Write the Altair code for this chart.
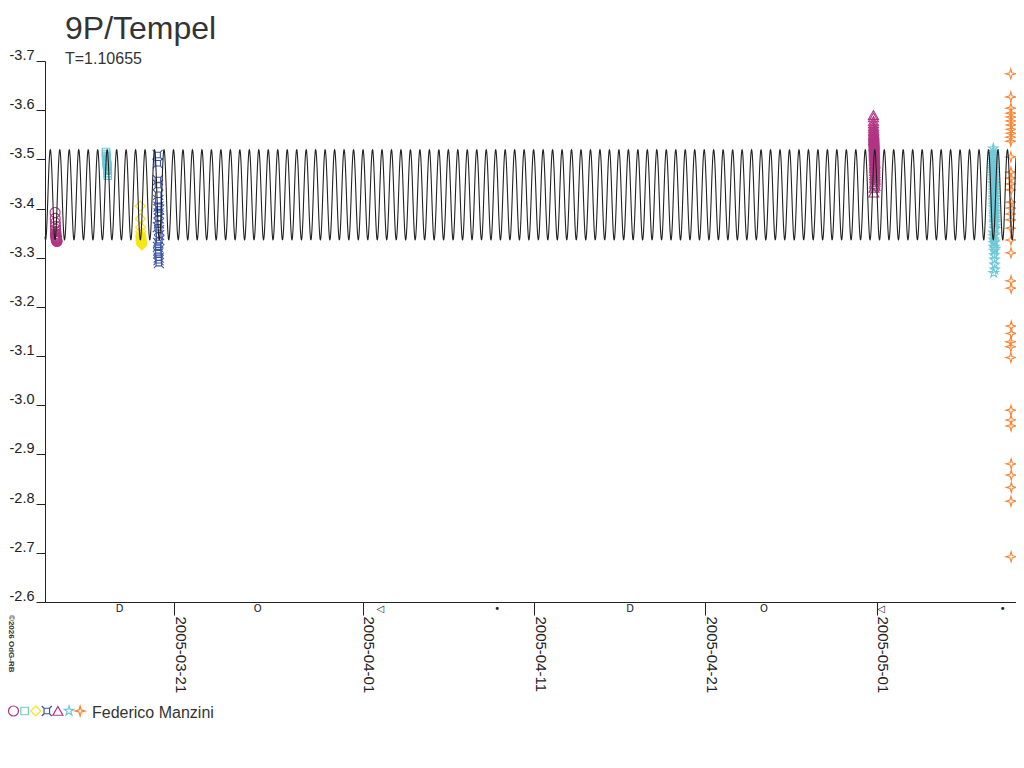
import altair as alt
import pandas as pd

# ---------------- text ----------------
TITLE = "9P/Tempel"
SUBTITLE = "T=1.10655"
OBSERVER = "Federico Manzini"
COPYRIGHT = "©2026 OdG-RB"

# ---------------- model curve parameters ----------------
PERIOD_DAYS = 1.10655
CURVE_MEAN = -3.428
CURVE_AMP = 0.0915
CURVE_PEAK = "2005-04-14T20:24:00Z"
X_START = "2005-03-13T10:48:00Z"
X_END = "2005-05-09T03:22:00Z"

# ---------------- axes ----------------
X_TICKS = ["2005-03-21", "2005-04-01", "2005-04-11", "2005-04-21", "2005-05-01"]
Y_TICKS = [-3.7, -3.6, -3.5, -3.4, -3.3, -3.2, -3.1, -3.0, -2.9, -2.8, -2.7, -2.6]

# ---------------- moon phases ----------------
MOON_TIMES = ["2005-03-17T19:19:00Z", "2005-03-25T20:58:00Z", "2005-04-02T00:50:00Z",
              "2005-04-08T20:32:00Z", "2005-04-16T14:37:00Z", "2005-04-24T10:06:00Z",
              "2005-05-01T06:24:00Z", "2005-05-08T08:45:00Z"]
MOON_SYMBOLS = ["D", "O", "◁", "•", "D", "O", "◁", "•"]

# ---------------- series ----------------
SERIES = ["s1", "s2", "s3", "s4", "s5", "s6", "s7"]
SERIES_COLORS = ["#b13482", "#6ec8d7", "#f5e614", "#3c55a5", "#b13482", "#6ec8d7", "#f58737"]
SERIES_SHAPES = [
    "circle",
    "M-0.75,-0.75H0.75V0.75H-0.75Z",
    "M0,-1L1,0L0,1L-1,0Z",
    "M-0.55,-0.55H0.55V0.55H-0.55ZM-0.55,-0.55L-1,-1M0.55,-0.55L1,-1M0.55,0.55L1,1M-0.55,0.55L-1,1",
    "M0,-0.9L1,0.85L-1,0.85Z",
    "M0,-1L0.224,-0.309L0.951,-0.309L0.363,0.118L0.588,0.809L0,0.382L-0.588,0.809L-0.363,0.118L-0.951,-0.309L-0.224,-0.309Z",
    "M0,-1L0.22,-0.22L1,0L0.22,0.22L0,1L-0.22,0.22L-1,0L-0.22,-0.22Z",
]

A_DATE = "2005-03-14"
A_HOURS = [0.9, 1.1, 1.3, 1.5, 1.7, 1.9, 2.0, 2.2, 2.4, 2.6, 2.8, 3.0, 3.2, 3.4, 3.6, 2.5, 2.1, 1.8, 1.6, 2.9]
A_MAG = [-3.392, -3.380, -3.371, -3.364, -3.358, -3.353, -3.349, -3.346, -3.343, -3.341,
         -3.339, -3.337, -3.335, -3.334, -3.333, -3.336, -3.340, -3.344, -3.348, -3.338]

B_DATE = "2005-03-17"
B_HOURS = [0.2, 0.4, 0.6, 0.8, 1.0, 1.2, 1.4, 1.6, 1.8, 2.0, 2.2, 2.4, 2.6, 2.8, 0.5, 1.1, 1.7, 2.3]
B_MAG = [-3.515, -3.511, -3.507, -3.503, -3.500, -3.497, -3.494, -3.491, -3.488, -3.485,
         -3.481, -3.477, -3.472, -3.467, -3.505, -3.498, -3.489, -3.479]

C_DATE = "2005-03-19"
C_HOURS = [0.3, 0.5, 0.7, 0.9, 1.1, 1.3, 1.5, 1.7, 1.9, 2.1, 2.3, 2.5, 1.0, 1.6, 2.0, 1.2]
C_MAG = [-3.405, -3.379, -3.362, -3.353, -3.347, -3.342, -3.338, -3.335, -3.332, -3.330,
         -3.328, -3.326, -3.344, -3.336, -3.331, -3.340]

D_DATE = "2005-03-20"
D_HOURS = [0.6, 0.8, 1.0, 1.2, 1.4, 1.6, 1.8, 2.0, 2.2, 2.4, 2.6, 2.8, 3.0, 1.1, 1.5, 1.9,
           2.3, 2.7, 0.9, 1.3, 1.7, 2.1]
D_MAG = [-3.509, -3.492, -3.458, -3.448, -3.428, -3.417, -3.404, -3.390, -3.380, -3.370,
         -3.356, -3.346, -3.336, -3.322, -3.309, -3.295, -3.289, -3.398, -3.362, -3.330,
         -3.315, -3.300]

E_DATE = "2005-04-30"
E_HOURS = [19.6, 19.7, 19.8, 19.9, 20.0, 20.1, 20.2, 20.3, 20.4, 20.5, 20.6, 20.7, 20.8,
           20.9, 21.0, 21.1, 21.2, 21.3, 21.4, 21.5, 21.6, 21.7, 21.8, 21.9, 22.0,
           21.0, 20.6, 20.2, 19.8, 20.4, 20.8, 21.2, 21.6,
           19.65, 19.75, 19.85, 19.95, 20.05, 20.15, 20.25, 20.35, 20.45, 20.55, 20.65,
           20.75, 20.85, 20.95, 21.05, 21.15, 21.25, 21.35, 21.45, 21.55, 21.65, 21.75]
E_MAG = [-3.590, -3.578, -3.568, -3.560, -3.554, -3.549, -3.545, -3.541, -3.537, -3.533,
         -3.529, -3.525, -3.521, -3.517, -3.513, -3.509, -3.505, -3.500, -3.495, -3.490,
         -3.485, -3.479, -3.472, -3.465, -3.458, -3.450, -3.442, -3.432, -3.538, -3.527,
         -3.515, -3.503, -3.492,
         -3.585, -3.573, -3.564, -3.557, -3.551, -3.547, -3.543, -3.539, -3.535, -3.531,
         -3.523, -3.519, -3.511, -3.507, -3.497, -3.487, -3.482, -3.476, -3.468, -3.461,
         -3.454, -3.446]

F_DATE = "2005-05-07"
F_HOURS = [19.6, 19.7, 19.8, 19.9, 20.0, 20.1, 20.2, 20.3, 20.4, 20.5, 20.6, 20.7, 20.8,
           20.9, 21.0, 21.1, 21.2, 21.3, 21.4, 21.5, 21.6, 21.7, 21.8,
           19.8, 20.0, 20.2, 20.4, 20.6, 20.8, 21.0, 21.2, 21.4, 21.6, 20.1, 20.5, 20.9, 21.3,
           19.65, 19.75, 19.85, 19.95, 20.05, 20.15, 20.25, 20.35, 20.45, 20.55, 20.65,
           20.75, 20.85, 20.95, 21.05, 21.15, 21.25, 21.35, 21.45, 21.55, 21.65, 21.75, 21.85]
F_MAG = [-3.522, -3.510, -3.500, -3.492, -3.484, -3.477, -3.470, -3.463, -3.456, -3.449,
         -3.442, -3.435, -3.428, -3.421, -3.414, -3.407, -3.400, -3.393, -3.386, -3.379,
         -3.372, -3.365, -3.358, -3.351, -3.344, -3.337, -3.330, -3.322, -3.314, -3.305,
         -3.296, -3.286, -3.276, -3.269, -3.450, -3.410, -3.370,
         -3.516, -3.505, -3.496, -3.488, -3.480, -3.473, -3.466, -3.459, -3.452, -3.445,
         -3.438, -3.431, -3.424, -3.417, -3.403, -3.396, -3.389, -3.382, -3.375, -3.361,
         -3.347, -3.333, -3.318]

G_DATE = "2005-05-08"
G_HOURS = [20.0, 20.1, 20.2, 20.3, 20.4, 20.5, 20.6, 20.7, 20.8,
           20.0, 20.1, 20.2, 20.3, 20.4, 20.5, 20.6, 20.7, 20.8,
           20.0, 20.1, 20.2, 20.3, 20.4, 20.5, 20.6, 20.7, 20.8,
           20.0, 20.1, 20.2, 20.3, 20.4, 20.5, 20.6, 20.7, 20.8, 20.3, 20.5]
G_MAG = [-3.674, -3.627, -3.604, -3.594, -3.586, -3.578, -3.570, -3.561, -3.553, -3.545,
         -3.537, -3.505, -3.474, -3.462, -3.450, -3.438, -3.413, -3.401, -3.389, -3.377,
         -3.360, -3.336, -3.310, -3.253, -3.238, -3.161, -3.146, -3.129, -3.119, -3.097,
         -2.990, -2.970, -2.958, -2.881, -2.858, -2.833, -2.805, -2.692]

CLUSTERS = [
    ("s1", A_DATE, A_HOURS, A_MAG),
    ("s2", B_DATE, B_HOURS, B_MAG),
    ("s3", C_DATE, C_HOURS, C_MAG),
    ("s4", D_DATE, D_HOURS, D_MAG),
    ("s5", E_DATE, E_HOURS, E_MAG),
    ("s6", F_DATE, F_HOURS, F_MAG),
    ("s7", G_DATE, G_HOURS, G_MAG),
]

# ---------------- build tables ----------------
rows = []
for name, day, hours, mags in CLUSTERS:
    assert len(hours) == len(mags), name
    base = pd.Timestamp(day, tz="UTC")
    for h, m in zip(hours, mags):
        t = base + pd.to_timedelta(h, unit="h")
        rows.append({"series": name, "t": t.strftime("%Y-%m-%dT%H:%M:%SZ"), "mag": m})
points_df = pd.DataFrame(rows)


def ms(s):
    ts = pd.Timestamp(s)
    ts = ts.tz_convert("UTC") if ts.tzinfo else ts.tz_localize("UTC")
    return int(ts.value // 10**6)


start_ms = ms(X_START)
end_ms = ms(X_END)
peak_ms = ms(CURVE_PEAK)
STEP_MS = 864000  # 0.01 day sampling of the model curve
n_curve = int((end_ms - start_ms) / STEP_MS) + 1

moon_df = pd.DataFrame({"t": MOON_TIMES, "sym": MOON_SYMBOLS})

FONT = "Liberation Sans"
INK = "#222222"

xscale = alt.Scale(type="utc", domain=[start_ms, end_ms], nice=False)
yscale = alt.Scale(domain=[Y_TICKS[0], Y_TICKS[-1]], reverse=True, nice=False, zero=False)

xaxis = alt.Axis(
    values=[ms(d + "T00:00:00Z") for d in X_TICKS],
    labelExpr="utcFormat(datum.value, '%Y-%m-%d')",
    labelAngle=90, labelAlign="left", labelBaseline="alphabetic",
    labelFontSize=15, labelFont=FONT, labelColor=INK, labelPadding=1, labelOffset=1,
    tickSize=13, tickColor=INK, domainColor=INK, grid=False, title=None,
    labelOverlap=False,
)
yaxis = alt.Axis(
    values=Y_TICKS,
    labelExpr="replace(format(datum.value, '.1f'), '\u2212', '-')",
    labelFontSize=14.5, labelFont=FONT, labelColor=INK, labelPadding=2,
    labelBaseline="alphabetic", labelOffset=-1.5,
    tickSize=9, tickColor=INK, domainColor=INK, grid=False, title=None,
    labelOverlap=False,
)

points = alt.Chart(points_df).mark_point(filled=False, size=100, strokeWidth=1.1, opacity=1).encode(
    x=alt.X("t:T", scale=xscale, axis=xaxis),
    y=alt.Y("mag:Q", scale=yscale, axis=yaxis),
    color=alt.Color("series:N", scale=alt.Scale(domain=SERIES, range=SERIES_COLORS), legend=None),
    shape=alt.Shape("series:N", scale=alt.Scale(domain=SERIES, range=SERIES_SHAPES), legend=None),
)

curve = alt.Chart(alt.sequence(0, n_curve, as_="i")).transform_calculate(
    t=f"{start_ms} + datum.i * {STEP_MS}"
).transform_calculate(
    mag=f"{CURVE_MEAN} - {CURVE_AMP} * cos(4 * PI * (datum.t - {peak_ms}) / ({PERIOD_DAYS} * 86400000))"
).mark_line(color=INK, strokeWidth=1.1).encode(
    x=alt.X("t:T", scale=xscale, axis=xaxis),
    y=alt.Y("mag:Q", scale=yscale, axis=yaxis),
)

moon = alt.Chart(moon_df).mark_text(
    font="DejaVu Sans", fontSize=10, color=INK, baseline="middle", align="center"
).encode(
    x=alt.X("t:T", scale=xscale, axis=xaxis),
    y=alt.value(548),
    text="sym:N",
)

# observer legend: one symbol per series, then the observer's name
LEG_X0, LEG_STEP, LEG_Y = -31.5, 11.1, 650
legend_layers = []
for i, (s, col, shp) in enumerate(zip(SERIES, SERIES_COLORS, SERIES_SHAPES)):
    legend_layers.append(
        alt.Chart(pd.DataFrame({"series": [s]})).mark_point(
            filled=False, size=100, strokeWidth=1.2, opacity=1, shape=shp, color=col
        ).encode(x=alt.value(LEG_X0 + i * LEG_STEP), y=alt.value(LEG_Y))
    )


def label(txt, x, y, size, **kw):
    return alt.Chart(pd.DataFrame({"txt": [txt]})).mark_text(
        font=FONT, fontSize=size, color="#333333", align="left", baseline="alphabetic", **kw
    ).encode(x=alt.value(x), y=alt.value(y), text="txt:N")


title = label(TITLE, 20, -22, 32)
subtitle = label(SUBTITLE, 20, 3, 16)
observer = label(OBSERVER, 47, 657, 16)
copyright_ = label(COPYRIGHT, -36, 554, 8, angle=90, fontWeight="bold")

chart = alt.layer(points, curve, moon, *legend_layers, title, subtitle, observer, copyright_).properties(
    width=971, height=541,
    padding={"left": 37, "top": 53, "right": 0, "bottom": 150},
    autosize=alt.AutoSizeParams(type="none"),
    background="white",
).configure_view(stroke=None)

chart.save("out.html", embed_options={"renderer": "svg", "actions": False})
